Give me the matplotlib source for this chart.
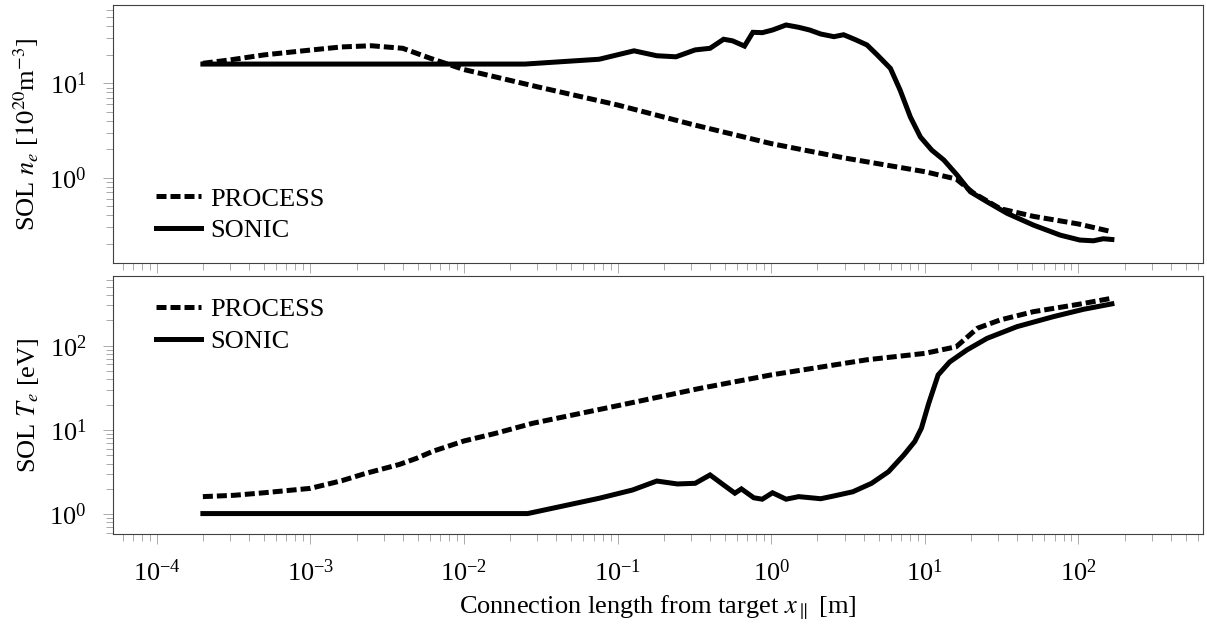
"""
SOL density and temperature profiles along the connection length,
PROCESS vs SONIC comparison (log-log, two stacked panels).
"""

import matplotlib
matplotlib.use("Agg")
import matplotlib.pyplot as plt
from matplotlib.ticker import LogLocator, NullFormatter, LogFormatterSciNotation

plt.rcParams['font.family'] = ['Liberation Serif', 'DejaVu Serif']
plt.rcParams['mathtext.fontset'] = 'stix'

# Top panel: electron density [1e20 m^-3]
ne_process_x = [2.0e-4, 3e-4, 5e-4, 1e-3, 1.6e-3, 2.5e-3, 4e-3, 6e-3, 1e-2, 3e-2,
                0.1, 0.3, 1.0, 3.0, 10.0, 16.0, 20.7, 31.0, 51.0, 100.0, 165.0]
ne_process_y = [16.3, 17.7, 20.0, 22.5, 24.3, 25.0, 23.5, 18.5, 14.0, 9.2,
                5.9, 3.7, 2.3, 1.62, 1.16, 0.97, 0.69, 0.47, 0.39, 0.324, 0.268]

ne_sonic_x = [2e-4, 0.025, 0.076, 0.128, 0.18, 0.24, 0.32, 0.40, 0.49, 0.56, 0.67,
              0.76, 0.875, 1.02, 1.25, 1.51, 1.78, 2.1, 2.56, 2.96, 3.5, 4.2, 4.9,
              5.97, 6.9, 8.05, 9.36, 11.1, 13.3, 16.2, 19.8, 25.4, 34.3, 51.0,
              76.0, 102.0, 125.0, 145.0, 165.0]
ne_sonic_y = [16.0, 16.0, 18.0, 22.1, 19.6, 19.1, 22.6, 23.5, 29.3, 28.2, 24.8,
              34.7, 34.4, 36.7, 41.5, 39.2, 36.7, 33.3, 31.2, 32.7, 29.2, 25.5, 20.0,
              14.4, 8.5, 4.4, 2.7, 1.96, 1.54, 1.07, 0.71, 0.557, 0.42, 0.315,
              0.247, 0.219, 0.215, 0.226, 0.222]

# Bottom panel: electron temperature [eV]
te_process_x = [2e-4, 3.2e-4, 5e-4, 1e-3, 1.6e-3, 2.3e-3, 3.8e-3, 4.9e-3, 6.3e-3,
                1e-2, 0.016, 0.028, 0.1, 0.34, 1.0, 4.2, 10.0, 16.0, 22.0, 31.0,
                51.0, 100.0, 165.0]
te_process_y = [1.62, 1.68, 1.8, 2.03, 2.5, 3.06, 3.9, 4.6, 5.6,
                7.4, 9.1, 12.0, 19.4, 31.0, 45.0, 68.0, 81.0, 97.0, 161.0, 202.0,
                253.0, 309.0, 365.0]

te_sonic_x = [2e-4, 0.026, 0.076, 0.125, 0.18, 0.245, 0.32, 0.40, 0.49, 0.58, 0.64,
              0.77, 0.875, 1.02, 1.25, 1.51, 2.1, 2.56, 3.4, 4.5, 5.8, 7.3, 8.6,
              9.5, 10.6, 12.2, 14.5, 18.8, 25.4, 39.8, 68.8, 108.0, 165.0]
te_sonic_y = [1.02, 1.02, 1.55, 1.94, 2.48, 2.29, 2.33, 2.93, 2.23, 1.78, 2.0,
              1.57, 1.51, 1.8, 1.51, 1.62, 1.53, 1.65, 1.85, 2.33, 3.2, 5.05, 7.3,
              10.5, 20.7, 44.9, 64.0, 89.0, 122.0, 168.0, 221.0, 270.0, 313.0]

x_major = [1e-4, 1e-3, 1e-2, 1e-1, 1e0, 1e1, 1e2]

FS = 19
LW = 3.6
SPINE = '#404040'
TICK = '#aaaaaa'


def style_axis(ax, ylim):
    ax.set_xscale('log')
    ax.set_yscale('log')
    ax.set_xlim(5.18e-5, 643)
    ax.set_ylim(*ylim)
    for s in ax.spines.values():
        s.set_color(SPINE)
        s.set_linewidth(0.8)
    ax.set_xticks(x_major)
    ax.xaxis.set_minor_locator(LogLocator(base=10, subs=range(2, 10), numticks=20))
    ax.yaxis.set_major_locator(LogLocator(base=10, numticks=20))
    ax.yaxis.set_minor_locator(LogLocator(base=10, subs=range(2, 10), numticks=20))
    ax.xaxis.set_major_formatter(LogFormatterSciNotation())
    ax.xaxis.set_minor_formatter(NullFormatter())
    ax.yaxis.set_minor_formatter(NullFormatter())
    ax.yaxis.set_major_formatter(LogFormatterSciNotation())
    ax.tick_params(which='both', direction='out', color=TICK, width=0.7,
                   labelsize=FS, top=False, right=False)
    ax.tick_params(which='major', length=7)
    ax.tick_params(which='minor', length=5)
    ax.tick_params(axis='y', which='both', pad=12)
    ax.tick_params(axis='x', which='both', pad=11)


def draw_lines(ax, px, py, sx, sy):
    ax.plot(px, py, color='black', linewidth=LW, linestyle=(0, (2.0, 0.8)),
            dash_capstyle='butt', label='PROCESS')
    ax.plot(sx, sy, color='black', linewidth=LW, linestyle='-',
            solid_joinstyle='miter', label='SONIC')


fig = plt.figure(figsize=(12.07, 6.30), dpi=100)
ax1 = fig.add_axes([0.0934, 0.583, 0.903, 0.4095])
ax2 = fig.add_axes([0.0934, 0.152, 0.903, 0.410])

# top panel
style_axis(ax1, (0.126, 68))
draw_lines(ax1, ne_process_x, ne_process_y, ne_sonic_x, ne_sonic_y)
ax1.tick_params(axis='x', labelbottom=False)
ax1.set_ylabel(r'SOL $n_e$ [$10^{20}$m$^{-3}$]', fontsize=FS, labelpad=6)
ax1.legend(loc='lower left', bbox_to_anchor=(0.04, 0.08), frameon=False,
           fontsize=FS, handlelength=1.7, handletextpad=0.35, labelspacing=0.3,
           borderpad=0, borderaxespad=0)

# bottom panel
style_axis(ax2, (0.58, 671))
draw_lines(ax2, te_process_x, te_process_y, te_sonic_x, te_sonic_y)
ax2.set_ylabel(r'SOL $T_e$ [eV]', fontsize=FS, labelpad=6)
ax2.set_xlabel(r'Connection length from target $x_\parallel$ [m]', fontsize=FS, labelpad=6)
ax2.legend(loc='upper left', bbox_to_anchor=(0.04, 0.915), frameon=False,
           fontsize=FS, handlelength=1.7, handletextpad=0.35, labelspacing=0.3,
           borderpad=0, borderaxespad=0)

fig.savefig('out.png', dpi=100)
